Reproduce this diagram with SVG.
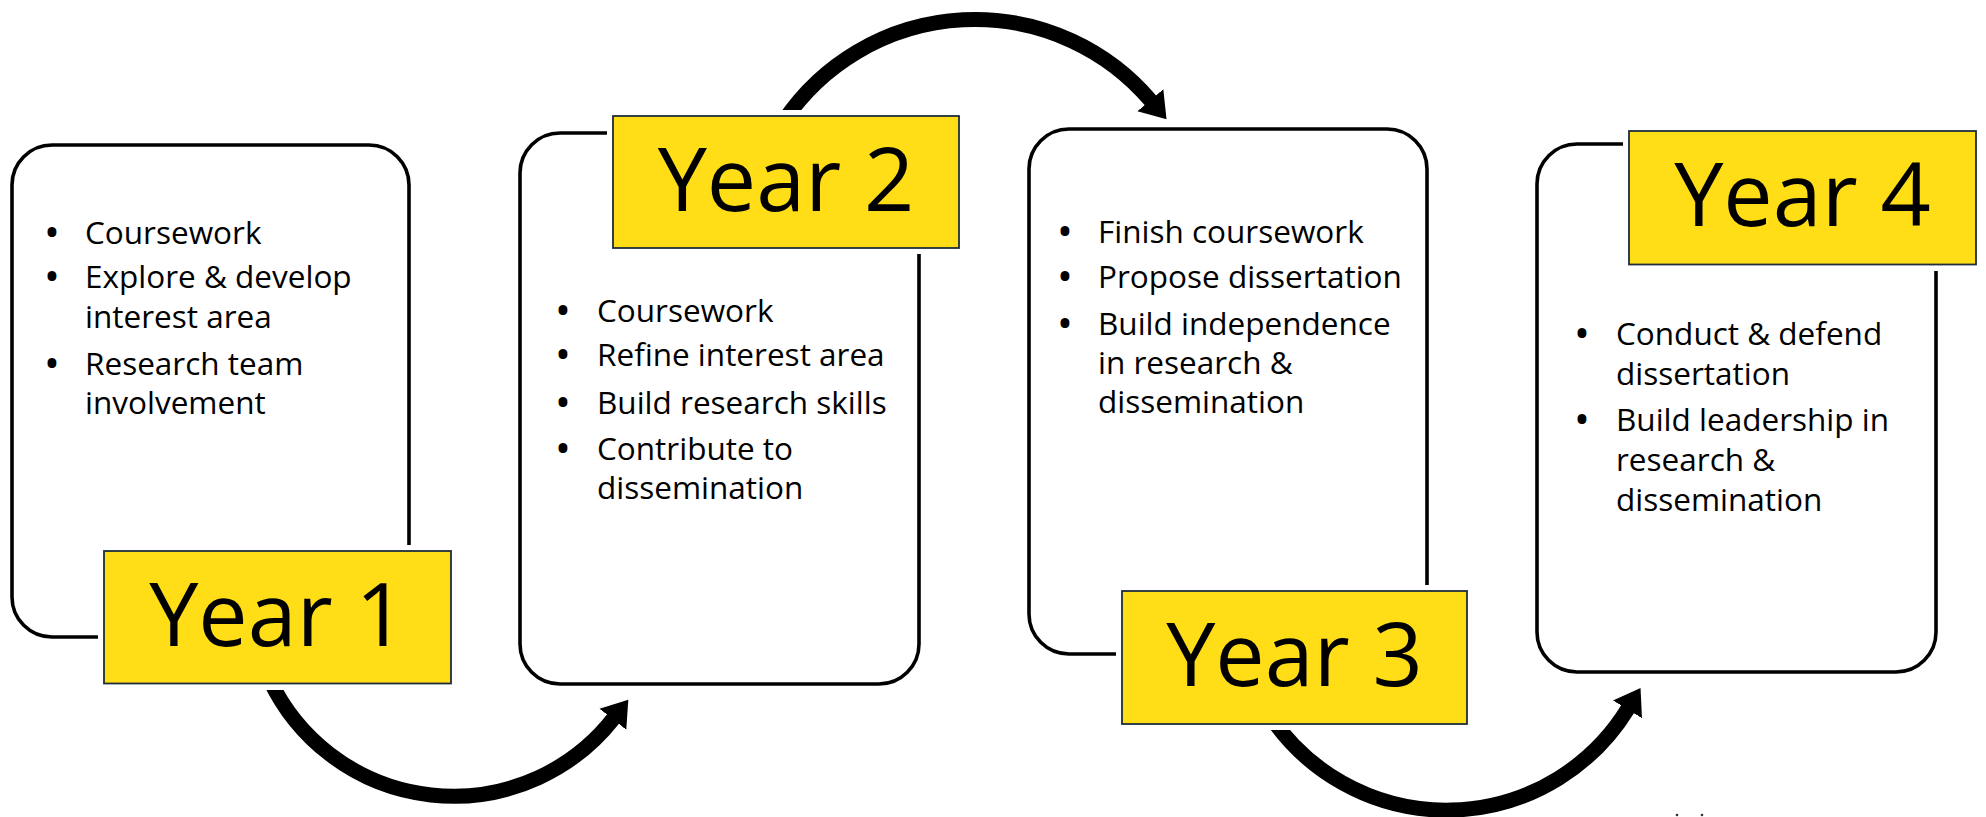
<svg xmlns="http://www.w3.org/2000/svg" width="1986" height="817" viewBox="0 0 1986 817">
<style>
.box{fill:#fff;stroke:#000;stroke-width:3.6}
.halo{fill:#fff}
.lab{fill:#FFDD17;stroke:#1f2d3d;stroke-width:1.8}
.yr{font-family:"Open Sans","Noto Sans",sans-serif;font-size:88px;fill:#000;text-anchor:middle}
.bt{font-family:"Open Sans","Noto Sans",sans-serif;font-size:31.5px;fill:#000}
.bu{text-anchor:middle;font-weight:700}
.arc{fill:none;stroke:#000;stroke-width:15;marker-end:url(#ah)}
</style>
<defs>
<marker id="ah" markerUnits="userSpaceOnUse" viewBox="0 -18 26 36" markerWidth="26" markerHeight="36" refX="1" refY="0" orient="auto">
<path d="M0,-17 L25,0 L0,17 Z" fill="#000"/>
</marker>
</defs>
<rect width="1986" height="817" fill="#fff"/>
<g id="connectors">
<path class="arc" d="M269.8 680 A203.4 203.4 0 0 0 613.5 718.5"/>
<path class="arc" d="M784.5 120 A230.8 230.8 0 0 1 1151 101"/>
<path class="arc" d="M1270 716 A212.7 212.7 0 0 0 1628 708.5"/>
</g>
<g id="year1">
<rect class="box" x="12" y="145" width="397" height="492" rx="40"/>
<g class="bt">
<text class="bu" x="52" y="243.6">•</text><text x="85" y="243.6">Coursework</text>
<text class="bu" x="52" y="288.2">•</text><text x="85" y="288.2">Explore &amp; develop</text>
<text x="85" y="327.5">interest area</text>
<text class="bu" x="52" y="374.6">•</text><text x="85" y="374.6">Research team</text>
<text x="85" y="413.9">involvement</text>
</g>
<rect class="halo" x="98" y="545" width="359" height="145"/>
<rect class="lab" x="104" y="551" width="347" height="132.5"/>
<text class="yr" x="277.5" y="646">Year 1</text>
</g>
<g id="year2">
<rect class="box" x="520" y="133" width="399" height="551" rx="40"/>
<g class="bt">
<text class="bu" x="563" y="322">•</text><text x="597" y="322">Coursework</text>
<text class="bu" x="563" y="366">•</text><text x="597" y="366">Refine interest area</text>
<text class="bu" x="563" y="414">•</text><text x="597" y="414">Build research skills</text>
<text class="bu" x="563" y="460">•</text><text x="597" y="460">Contribute to</text>
<text x="597" y="499">dissemination</text>
</g>
<rect class="halo" x="607" y="110" width="358" height="144"/>
<rect class="lab" x="613" y="116" width="346" height="132"/>
<text class="yr" x="786" y="211">Year 2</text>
</g>
<g id="year3">
<rect class="box" x="1029" y="129" width="398" height="525" rx="40"/>
<g class="bt">
<text class="bu" x="1065" y="242.7">•</text><text x="1098" y="242.7">Finish coursework</text>
<text class="bu" x="1065" y="288.3">•</text><text x="1098" y="288.3">Propose dissertation</text>
<text class="bu" x="1065" y="335.4">•</text><text x="1098" y="335.4">Build independence</text>
<text x="1098" y="373.6">in research &amp;</text>
<text x="1098" y="413">dissemination</text>
</g>
<rect class="halo" x="1116" y="585" width="357" height="145"/>
<rect class="lab" x="1122" y="591" width="345" height="133"/>
<text class="yr" x="1294.5" y="686">Year 3</text>
</g>
<g id="year4">
<rect class="box" x="1537" y="144" width="399" height="528" rx="40"/>
<g class="bt">
<text class="bu" x="1582" y="345">•</text><text x="1616" y="345">Conduct &amp; defend</text>
<text x="1616" y="385">dissertation</text>
<text class="bu" x="1582" y="431">•</text><text x="1616" y="431">Build leadership in</text>
<text x="1616" y="471">research &amp;</text>
<text x="1616" y="511">dissemination</text>
</g>
<rect class="halo" x="1623" y="125" width="359" height="146"/>
<rect class="lab" x="1629" y="131" width="347" height="133.5"/>
<text class="yr" x="1802.5" y="226">Year 4</text>
</g>
<circle cx="1677" cy="815" r="1.3" fill="#333"/>
<circle cx="1702" cy="815" r="1.3" fill="#333"/>
</svg>
